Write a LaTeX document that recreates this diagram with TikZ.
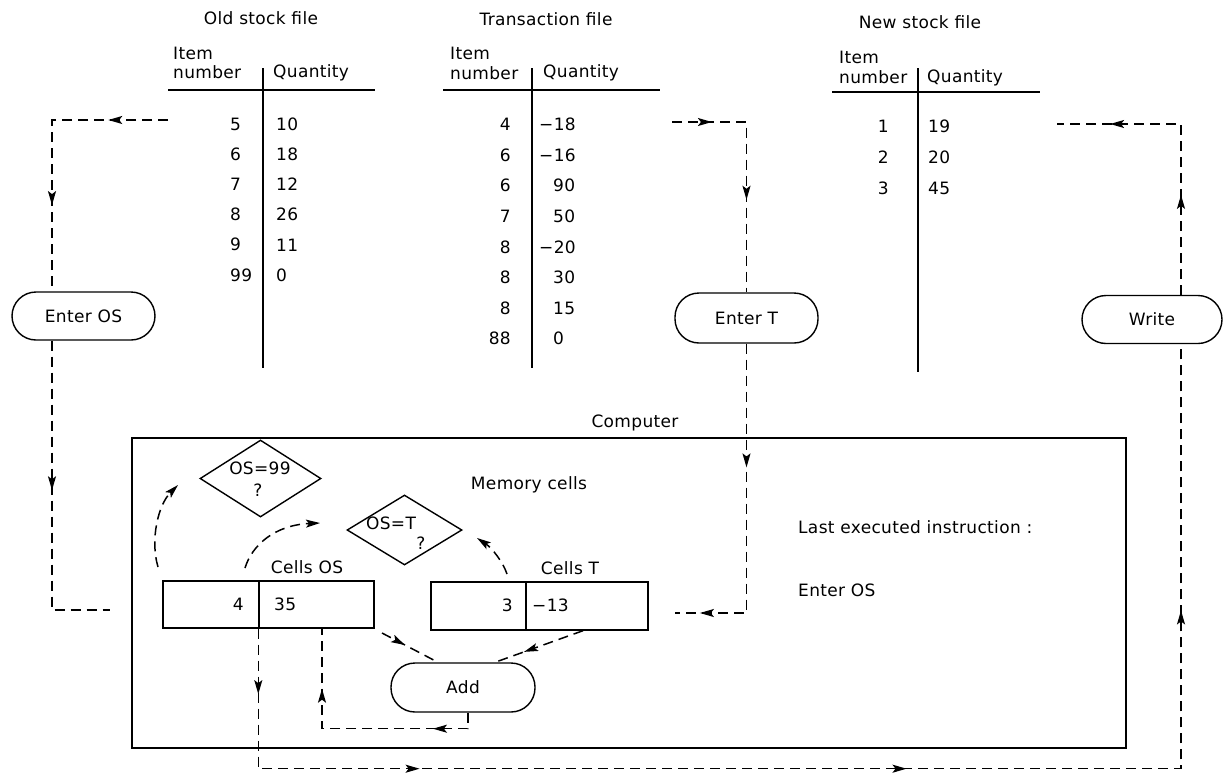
\documentclass[tikz,border=0pt]{standalone}
\usepackage{fontspec}
\setmainfont[LetterSpace=2]{DejaVu Sans}
\usetikzlibrary{arrows.meta,decorations.markings,shapes.geometric,calc}
\tikzset{
  lbl/.style={font=\fontsize{17}{19}\selectfont, inner sep=1pt},
  rule/.style={line width=1.4pt},
  dl/.style={line width=1.5pt, dash pattern=on 10pt off 6pt},
  marr/.style={postaction={decorate,decoration={markings,mark=at position #1 with {\arrow{Stealth[length=14pt,width=8pt,inset=3pt]}}}}},
  endarr/.style={-{Stealth[length=14pt,width=8pt,inset=3pt]}},
  term/.style={draw, line width=1.4pt, rounded corners=24pt, minimum height=48pt, inner sep=0pt, font=\fontsize{17}{19}\selectfont},
  dmd/.style={draw, diamond, line width=1.4pt, inner sep=0pt},
  cell/.style={draw, line width=1.4pt, minimum height=47pt, inner sep=0pt},
}
\begin{document}
\begin{tikzpicture}[x=1pt,y=-1pt]
\useasboundingbox (0,0) rectangle (1227,774);

% ---------- Old stock file ----------
\node[lbl] (ot) at (261,18) {Old stock file};
\node[lbl,anchor=west] (oi) at (172,53) {Item};
\node[lbl,anchor=west] (on) at (172,72) {number};
\node[lbl,anchor=west] (oq) at (272,73) {Quantity};
\draw[rule] (168,90) -- (375,90);
\draw[rule] (263,68) -- (263,368);
\foreach \a/\b/\k in {5/10/0,6/18/1,7/12/2,8/26/3,9/11/4,99/0/5}{
  \node[lbl,anchor=west] (oa\k) at (229,124+30.2*\k) {\a};
  \node[lbl,anchor=west] (ob\k) at (275,124+30.2*\k) {\b};
}

% ---------- Transaction file ----------
\node[lbl] (tt) at (546,19) {Transaction file};
\node[lbl,anchor=west] (ti) at (449,53) {Item};
\node[lbl,anchor=west] (tn) at (449,73) {number};
\node[lbl,anchor=west] (tq) at (542,73) {Quantity};
\draw[rule] (443,90) -- (660,90);
\draw[rule] (532,68) -- (532,368);
\foreach \a/\b/\xq/\k in {4/−18/538/0,6/−16/538/1,6/90/552/2,7/50/552/3,8/−20/538/4,8/30/552/5,8/15/552/6,88/0/552/7}{
  \node[lbl,anchor=east] (ta\k) at (512,124.5+30.6*\k) {\a};
  \node[lbl,anchor=west] (tb\k) at (\xq,124.5+30.6*\k) {\b};
}

% ---------- New stock file ----------
\node[lbl] (nt) at (920,22) {New stock file};
\node[lbl,anchor=west] (ni) at (838,57) {Item};
\node[lbl,anchor=west] (nn) at (838,77) {number};
\node[lbl,anchor=west] (nq) at (926,78) {Quantity};
\draw[rule] (832,92) -- (1040,92);
\draw[rule] (918,68) -- (918,372);
\foreach \a/\b/\k in {1/19/0,2/20/1,3/45/2}{
  \node[lbl,anchor=east] (na\k) at (890,126+31*\k) {\a};
  \node[lbl,anchor=west] (nb\k) at (927,126+31*\k) {\b};
}

% ---------- terminals ----------
\node[term, minimum width=143pt] (eos) at (83.5,316) {Enter OS};
\node[term, minimum width=143pt, minimum height=50pt] (ent) at (746.5,318) {Enter T};
\node[term, minimum width=140pt] (wr) at (1152,319.5) {Write};

% ---------- computer ----------
\node[draw, line width=1.4pt, minimum width=994pt, minimum height=310pt, inner sep=0pt] (comp) at (629,593) {};
\node[lbl] (compl) at (635,423) {Computer};
\node[lbl] (mem) at (529,485) {Memory cells};

\node[dmd, minimum width=121pt, minimum height=77pt] (d99) at (260.5,478.5) {};
\node[lbl] (d99a) at (260,468) {OS=99};
\node[lbl] (d99b) at (258,490) {?};
\node[dmd, minimum width=115pt, minimum height=70pt] (dT) at (404.5,530) {};
\node[lbl] (dTa) at (391,523) {OS=T};
\node[lbl] (dTb) at (421,543) {?};

\node[lbl] (cosl) at (307,567) {Cells OS};
\node[cell, minimum width=96pt] (osl) at (211,604.5) {};
\node[cell, minimum width=115pt] (osr) at (316.5,604.5) {};
\node[lbl,anchor=east] (osv1) at (245,604) {4};
\node[lbl,anchor=west] (osv2) at (273,604) {35};

\node[lbl] (ctl) at (570,568) {Cells T};
\node[cell, minimum width=95pt, minimum height=48pt] (tl) at (478.5,606) {};
\node[cell, minimum width=122pt, minimum height=48pt] (tr) at (587,606) {};
\node[lbl,anchor=east] (tv1) at (514,605) {3};
\node[lbl,anchor=west] (tv2) at (531,605) {−13};

\node[term, minimum width=144pt, minimum height=49pt] (add) at (463,687.5) {Add};

\node[lbl,anchor=west] (last) at (797,527) {Last executed instruction :};
\node[lbl,anchor=west] (lastv) at (797,590) {Enter OS};

% ---------- helper coordinates ----------
\coordinate (xL) at (52,0);
\coordinate (xR) at (1181,0);
\coordinate (x322) at (322,0);
\coordinate (oS) at (168,120);
\coordinate (eE) at (110,610);
\coordinate (tS) at (672,122);
\coordinate (tE) at (675,613);
\coordinate (nS) at (1057,124);
\coordinate (dS) at (382,633);
\coordinate (c1s) at (158,567);
\coordinate (c1e) at (178,485);
\coordinate (c2s) at (245,568);
\coordinate (c2e) at (320,523);
\coordinate (c3s) at (507,574);
\coordinate (c3e) at (477,538);

% ---------- connectors ----------
\draw[dl, marr=0.208, marr=0.70] (oS) -| (eos.north -| xL);
\draw[dl, marr=0.457] (eos.south -| xL) |- (eE);
\draw[dl, marr=0.163, marr=0.622] (tS) -| (ent.north);
\draw[dl, marr=0.363, marr=0.927] (ent.south) |- (tE);
\draw[dl, marr=0.339, marr=0.82] (wr.north -| xR) |- (nS);
\draw[dl, marr=0.044, marr=0.2026, marr=0.530, marr=0.821] (osr.south west) -- ++(0,140) -| (wr.south -| xR);
\draw[dl, marr=0.195, marr=0.771] ($(add.south)+(5,0)$) -- ++(0,16) -| (osr.south -| x322);
\draw[dl, marr=0.41] (dS) -- ($(add.north)+(-25,0)$);
\draw[dl, marr=0.67] ($(tr.south)+(-4,0)$) -- ($(add.north)+(32,0)$);
\draw[dl, endarr] (c1s) .. controls (150,540) and (158,505) .. (c1e);
\draw[dl, endarr] (c2s) .. controls (252,545) and (275,525) .. (c2e);
\draw[dl, endarr] (c3s) .. controls (503,562) and (492,548) .. (c3e);
\end{tikzpicture}
\end{document}
